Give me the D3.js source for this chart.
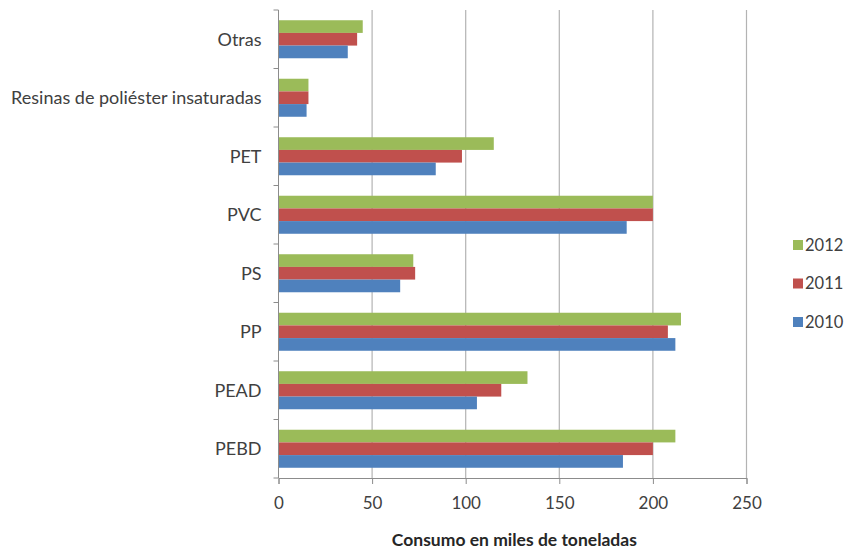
<!DOCTYPE html>
<html>
<head>
<meta charset="utf-8">
<script src="https://cdn.jsdelivr.net/npm/d3@7"></script>
<style>
  body { margin: 0; background: #fff; }
  text { font-family: Lato, "Open Sans", sans-serif; }
</style>
</head>
<body>
<svg id="chart" width="850" height="553"></svg>
<script>
// categories, top to bottom
const categories = ["Otras", "Resinas de poliéster insaturadas", "PET", "PVC", "PS", "PP", "PEAD", "PEBD"];
// series in bar order inside each group (top to bottom)
const seriesNames = ["2012", "2011", "2010"];
const values2012 = [45, 16, 115, 200, 72, 215, 133, 212];
const values2011 = [42, 16, 98, 200, 73, 208, 119, 200];
const values2010 = [37, 15, 84, 186, 65, 212, 106, 184];
const xTicks = [0, 50, 100, 150, 200, 250];
const colors = ["#9bbb59", "#c0504d", "#4f81bd"];

const seriesValues = [values2012, values2011, values2010];

const svg = d3.select("#chart");
const margin = {top: 10, left: 278.5, right: 103.5, bottom: 75};
const width = 850 - margin.left - margin.right;
const height = 553 - margin.top - margin.bottom;

const g = svg.append("g").attr("transform", `translate(${margin.left},${margin.top})`);

const x = d3.scaleLinear().domain([0, 250]).range([0, width]);
const y = d3.scaleBand().domain(categories).range([0, height])
  .paddingInner(0.35).paddingOuter(0.175);
const ySub = d3.scaleBand().domain(seriesNames).range([0, y.bandwidth()]);

// vertical grid lines
g.selectAll(".grid")
  .data(xTicks.slice(1))
  .enter().append("line")
  .attr("class", "grid")
  .attr("x1", d => x(d)).attr("x2", d => x(d))
  .attr("y1", 0).attr("y2", height)
  .attr("stroke", "#b3b3b3")
  .attr("stroke-width", 1.2);

// bars
categories.forEach((cat, i) => {
  seriesNames.forEach((s, j) => {
    g.append("rect")
      .attr("x", x(0))
      .attr("y", y(cat) + ySub(s))
      .attr("width", x(seriesValues[j][i]) - x(0))
      .attr("height", ySub.bandwidth())
      .attr("fill", colors[j]);
  });
});

// x axis
const xAxis = g.append("g")
  .attr("transform", `translate(0,${height})`)
  .call(d3.axisBottom(x).tickValues(xTicks).tickSize(6).tickPadding(13));
xAxis.select(".domain").attr("stroke", "#8c8c8c");
xAxis.selectAll(".tick line").attr("stroke", "#8c8c8c");
xAxis.selectAll(".tick text")
  .attr("font-size", 17)
  .attr("fill", "#404040")
  .style("font-family", "Lato, sans-serif");

// y axis: ticks on category boundaries
const bounds = d3.range(categories.length + 1).map(k => k * y.step());
g.append("line")
  .attr("x1", 0).attr("x2", 0).attr("y1", 0).attr("y2", height)
  .attr("stroke", "#8c8c8c");
g.selectAll(".ytick")
  .data(bounds)
  .enter().append("line")
  .attr("x1", -5).attr("x2", 0)
  .attr("y1", d => d).attr("y2", d => d)
  .attr("stroke", "#8c8c8c");

g.selectAll(".ylabel")
  .data(categories)
  .enter().append("text")
  .attr("x", -17)
  .attr("y", d => y(d) + y.bandwidth() / 2)
  .attr("dy", "0.35em")
  .attr("text-anchor", "end")
  .attr("font-size", 18)
  .attr("fill", "#404040")
  .text(d => d);

// axis title
svg.append("text")
  .attr("x", margin.left + x(126))
  .attr("y", 546)
  .attr("text-anchor", "middle")
  .attr("font-size", 17.5)
  .attr("font-weight", "bold")
  .attr("fill", "#262626")
  .text("Consumo en miles de toneladas");

// legend
const legend = svg.append("g").attr("transform", "translate(793,245)");
seriesNames.forEach((s, j) => {
  const row = legend.append("g").attr("transform", `translate(0,${j * 38.5})`);
  row.append("rect")
    .attr("x", 0).attr("y", -5)
    .attr("width", 10).attr("height", 10)
    .attr("fill", colors[j]);
  row.append("text")
    .attr("x", 12).attr("y", 0).attr("dy", "0.35em")
    .attr("font-size", 16.5)
    .attr("fill", "#404040")
    .text(s);
});
</script>
</body>
</html>
